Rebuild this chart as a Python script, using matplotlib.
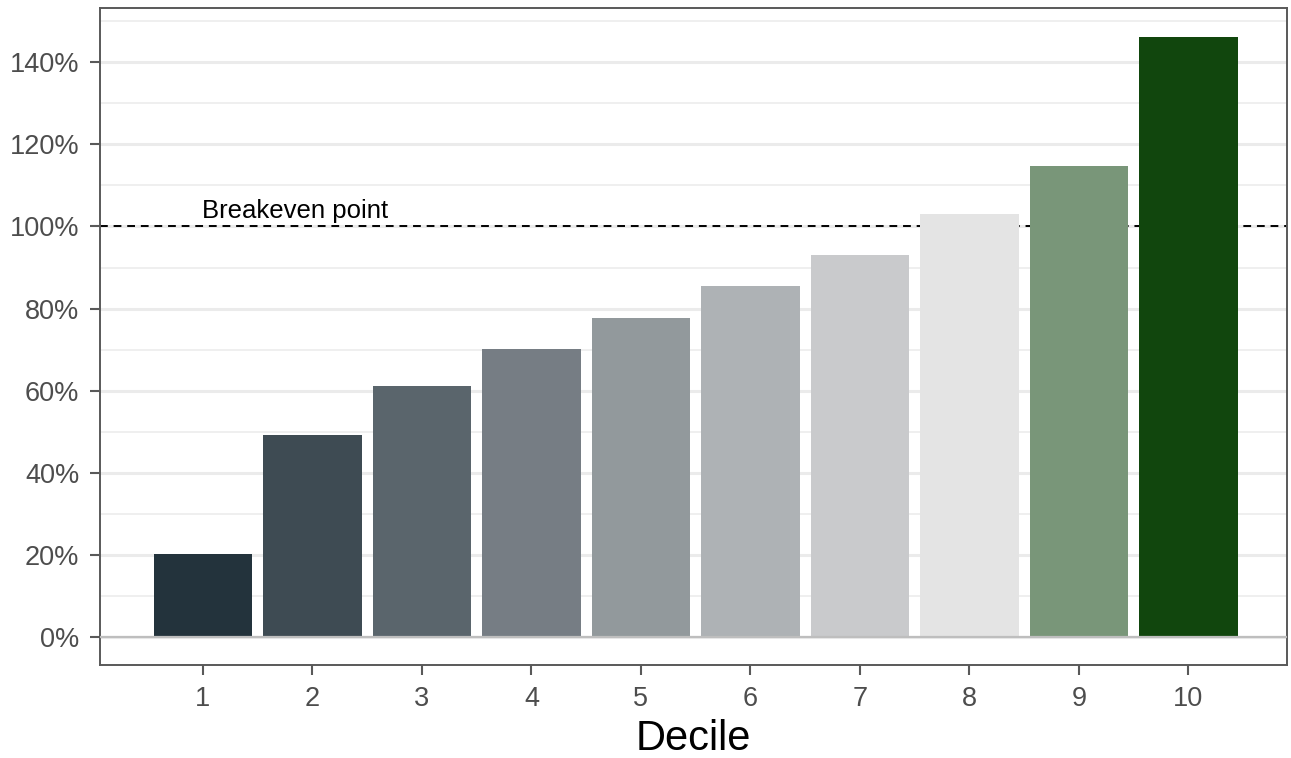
import numpy as np
import matplotlib.pyplot as plt
from matplotlib.ticker import MultipleLocator, FuncFormatter

plt.rcParams['font.family'] = ['Liberation Sans', 'DejaVu Sans']

deciles = [1, 2, 3, 4, 5, 6, 7, 8, 9, 10]
returns = [20.2, 49.2, 61.2, 70.2, 77.8, 85.6, 93.1, 103.1, 114.8, 146.2]
colors = ["#23333C", "#3E4B53", "#5A656C", "#767D84", "#92999C",
          "#AEB2B5", "#C9CACC", "#E4E4E4", "#799679", "#11460D"]
breakeven = 100

fig = plt.figure(figsize=(12.91, 7.58), dpi=100)
ax = fig.add_axes([0.0775, 0.1227, 0.9194, 0.8667])

ax.bar(deciles, returns, width=0.9, color=colors, zorder=3)
ax.axhline(breakeven, color='black', linestyle=(0, (4, 3)), linewidth=1.4, zorder=2)
ax.axhline(0, color='#BEBEBE', linewidth=1.6, zorder=4)
ax.text(0.99, breakeven + 0.8, 'Breakeven point', fontsize=18.5, color='black',
        ha='left', va='bottom', zorder=5)

ax.set_xlim(0.06, 10.9)
ax.set_ylim(-6.8, 153.2)
ax.set_xticks(deciles)
ax.yaxis.set_major_locator(MultipleLocator(20))
ax.yaxis.set_minor_locator(MultipleLocator(10))
ax.yaxis.set_major_formatter(FuncFormatter(lambda v, p: f'{v:.0f}%'))

ax.grid(axis='y', which='major', color='#EBEBEB', linewidth=2.2, zorder=0)
ax.grid(axis='y', which='minor', color='#EBEBEB', linewidth=1.1, zorder=0)
ax.set_axisbelow(True)

for s in ax.spines.values():
    s.set_color('#595959')
    s.set_linewidth(1.4)

ax.tick_params(axis='both', which='major', length=7, width=1.5, color='#595959',
               labelcolor='#4D4D4D', labelsize=19.5, pad=8)
ax.tick_params(axis='y', which='minor', length=0)
ax.set_xlabel('Decile', fontsize=30, color='black', labelpad=5)

fig.savefig('out.png', dpi=100)
